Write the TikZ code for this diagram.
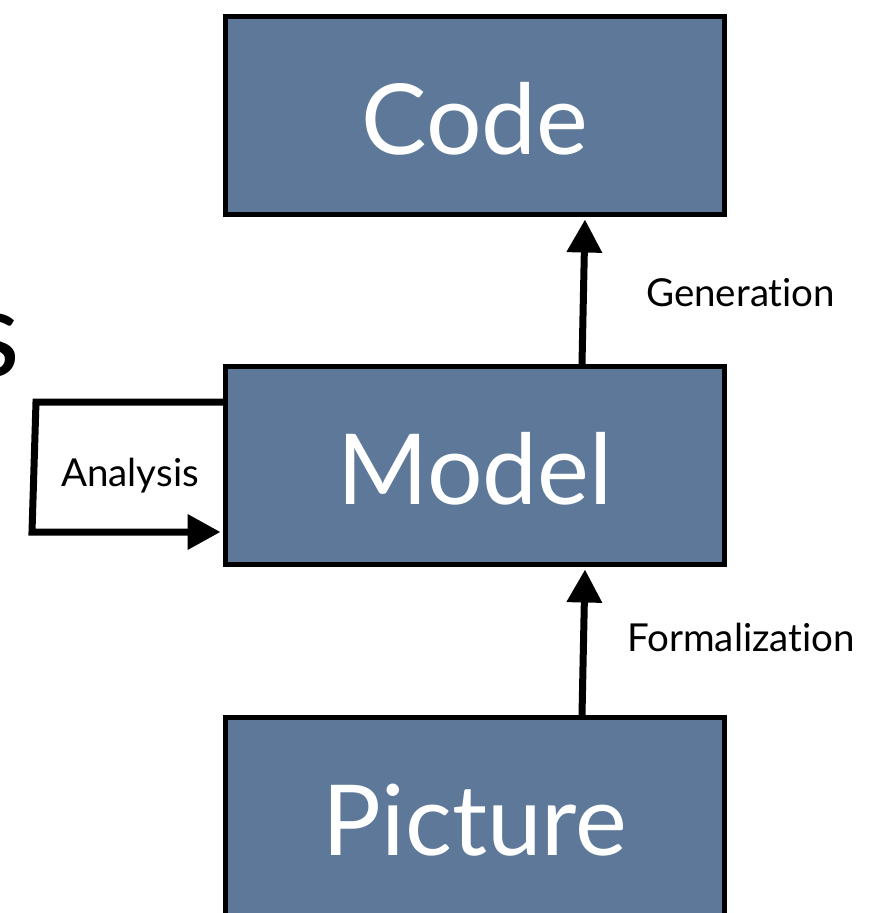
\documentclass[tikz,border=0pt]{standalone}
\usepackage{fontspec}
\setmainfont{Lato}[Ligatures=NoCommon]
\usetikzlibrary{arrows.meta}
\definecolor{boxblue}{RGB}{93,120,152}
\tikzset{
  stage/.style={draw=black, line width=5pt, fill=boxblue, text=white,
    minimum width=499pt, minimum height=198pt, inner sep=0pt,
    font=\fontsize{98}{98}\selectfont, text height=78pt, text depth=0pt},
  lbl/.style={inner sep=0pt, font=\fontsize{38.5}{38.5}\selectfont, text=black},
  arr/.style={line width=7pt, -{Triangle[width=34pt,length=33pt]}},
  loopline/.style={line width=7pt, line join=miter, -{Triangle[width=34pt,length=33pt]}}
}
\begin{document}
\begin{tikzpicture}[x=1pt,y=-1pt]
\useasboundingbox (0,0) rectangle (891,913);
\node[stage] (code) at (475,115.5) {Code};
\node[stage] (model) at (475,465.5) {Model};
\node[stage] (picture) at (475,816.5) {Picture};
\draw[arr] ([xshift=107pt]model.north) -- ([xshift=110pt,yshift=-2.5pt]code.south);
\draw[arr] ([xshift=107pt]picture.north) -- ([xshift=110pt,yshift=-2.5pt]model.south);
\coordinate (lt) at (36,402);
\coordinate (lb) at (32,532);
\draw[loopline] ([yshift=63.5pt]model.west) -- (lt) -- (lb) -- ([xshift=-2.5pt,yshift=-66.5pt]model.west);
\node[lbl, anchor=base west] (gen) at (646,306.5) {Generation};
\node[lbl, anchor=base west] (form) at (627,651.5) {Formalization};
\node[lbl, anchor=base west] (ana) at (61,486.5) {Analysis};
\node[inner sep=0pt, anchor=base east, font=\fontsize{122}{122}\selectfont] (title) at (21,376) {s};
\end{tikzpicture}
\end{document}
